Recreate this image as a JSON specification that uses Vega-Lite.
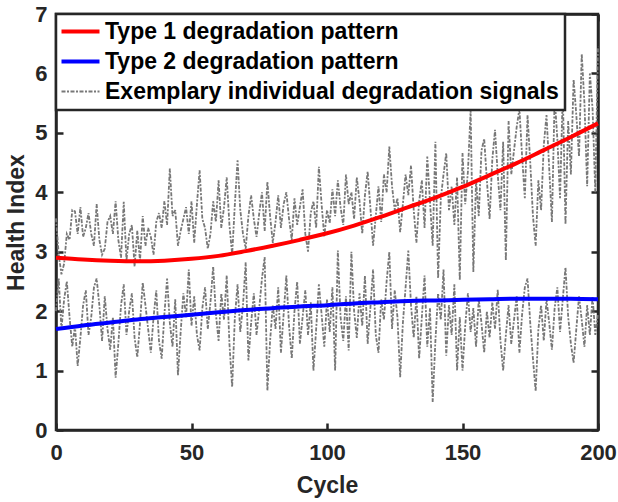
{
"$schema": "https://vega.github.io/schema/vega-lite/v6.json",
"width": 542, "height": 416,
"autosize": {"type": "none"},
"padding": {"left": 56, "top": 14, "right": 20, "bottom": 72},
"datasets": {
"curve": [
{"c":0,"t1":2.90,"t2":1.70},{"c":10,"t1":2.87,"t2":1.76},{"c":20,"t1":2.85,"t2":1.81},{"c":30,"t1":2.84,"t2":1.86},{"c":40,"t1":2.85,"t2":1.90},{"c":50,"t1":2.88,"t2":1.94},{"c":60,"t1":2.93,"t2":1.98},{"c":70,"t1":3.01,"t2":2.02},{"c":80,"t1":3.10,"t2":2.05},{"c":90,"t1":3.20,"t2":2.08},{"c":100,"t1":3.31,"t2":2.10},{"c":110,"t1":3.44,"t2":2.13},{"c":120,"t1":3.59,"t2":2.15},{"c":130,"t1":3.75,"t2":2.17},{"c":140,"t1":3.91,"t2":2.18},{"c":150,"t1":4.09,"t2":2.19},{"c":160,"t1":4.29,"t2":2.20},{"c":170,"t1":4.49,"t2":2.21},{"c":180,"t1":4.71,"t2":2.21},{"c":190,"t1":4.93,"t2":2.21},{"c":200,"t1":5.16,"t2":2.20}
],
"sig": [
{"c":0,"a":3.56,"b":2.00},{"c":1,"a":2.95,"b":2.55},{"c":2,"a":2.62,"b":1.70},{"c":3,"a":2.80,"b":2.20},{"c":4,"a":3.30,"b":2.50},{"c":5,"a":3.20,"b":1.90},{"c":6,"a":3.70,"b":1.40},{"c":7,"a":3.68,"b":1.75},{"c":8,"a":3.30,"b":1.08},{"c":9,"a":3.75,"b":1.55},
{"c":10,"a":3.25,"b":2.10},{"c":11,"a":3.40,"b":2.35},{"c":12,"a":3.65,"b":1.60},{"c":13,"a":3.30,"b":1.90},{"c":14,"a":3.10,"b":2.40},{"c":15,"a":3.80,"b":2.55},{"c":16,"a":3.20,"b":2.10},{"c":17,"a":2.95,"b":1.50},{"c":18,"a":3.05,"b":2.25},{"c":19,"a":3.50,"b":1.70},
{"c":20,"a":3.60,"b":1.35},{"c":21,"a":3.30,"b":1.90},{"c":22,"a":3.85,"b":0.88},{"c":23,"a":3.20,"b":1.45},{"c":24,"a":2.90,"b":2.10},{"c":25,"a":3.84,"b":2.45},{"c":26,"a":2.85,"b":1.60},{"c":27,"a":3.30,"b":2.00},{"c":28,"a":3.45,"b":2.30},{"c":29,"a":2.75,"b":1.55},
{"c":30,"a":3.35,"b":1.22},{"c":31,"a":2.85,"b":1.80},{"c":32,"a":3.60,"b":2.48},{"c":33,"a":3.10,"b":2.10},{"c":34,"a":3.40,"b":1.70},{"c":35,"a":3.25,"b":1.30},{"c":36,"a":2.95,"b":1.90},{"c":37,"a":3.50,"b":2.35},{"c":38,"a":3.65,"b":1.50},{"c":39,"a":3.40,"b":1.20},
{"c":40,"a":3.85,"b":1.95},{"c":41,"a":3.45,"b":2.55},{"c":42,"a":4.40,"b":1.80},{"c":43,"a":3.60,"b":1.40},{"c":44,"a":3.70,"b":2.20},{"c":45,"a":3.10,"b":0.92},{"c":46,"a":3.35,"b":1.65},{"c":47,"a":3.55,"b":2.30},{"c":48,"a":3.75,"b":1.90},{"c":49,"a":3.30,"b":2.70},
{"c":50,"a":3.85,"b":1.75},{"c":51,"a":3.15,"b":2.25},{"c":52,"a":3.80,"b":1.60},{"c":53,"a":4.37,"b":1.34},{"c":54,"a":3.55,"b":2.05},{"c":55,"a":3.40,"b":2.40},{"c":56,"a":3.05,"b":1.70},{"c":57,"a":3.30,"b":2.15},{"c":58,"a":3.85,"b":2.75},{"c":59,"a":3.50,"b":1.95},
{"c":60,"a":4.20,"b":1.50},{"c":61,"a":3.40,"b":2.30},{"c":62,"a":3.75,"b":1.85},{"c":63,"a":4.25,"b":2.60},{"c":64,"a":3.45,"b":1.45},{"c":65,"a":2.95,"b":0.72},{"c":66,"a":3.80,"b":1.90},{"c":67,"a":4.54,"b":2.45},{"c":68,"a":3.70,"b":1.65},{"c":69,"a":3.30,"b":2.10},
{"c":70,"a":3.05,"b":2.82},{"c":71,"a":3.60,"b":1.17},{"c":72,"a":3.95,"b":1.80},{"c":73,"a":3.55,"b":2.30},{"c":74,"a":3.25,"b":1.60},{"c":75,"a":3.65,"b":2.05},{"c":76,"a":4.00,"b":2.55},{"c":77,"a":3.35,"b":2.91},{"c":78,"a":4.18,"b":0.66},{"c":79,"a":3.60,"b":1.50},
{"c":80,"a":3.15,"b":2.10},{"c":81,"a":3.50,"b":1.70},{"c":82,"a":3.95,"b":2.40},{"c":83,"a":3.40,"b":1.30},{"c":84,"a":3.80,"b":1.95},{"c":85,"a":4.00,"b":2.60},{"c":86,"a":3.55,"b":1.75},{"c":87,"a":3.20,"b":1.20},{"c":88,"a":3.90,"b":2.00},{"c":89,"a":3.45,"b":2.50},
{"c":90,"a":3.75,"b":1.45},{"c":91,"a":4.05,"b":1.90},{"c":92,"a":3.30,"b":2.35},{"c":93,"a":3.00,"b":1.60},{"c":94,"a":3.65,"b":2.15},{"c":95,"a":3.85,"b":1.00},{"c":96,"a":3.40,"b":1.70},{"c":97,"a":4.43,"b":2.45},{"c":98,"a":3.80,"b":1.95},{"c":99,"a":3.25,"b":1.40},
{"c":100,"a":3.70,"b":2.20},{"c":101,"a":3.48,"b":1.65},{"c":102,"a":4.05,"b":2.40},{"c":103,"a":3.60,"b":1.00},{"c":104,"a":4.20,"b":3.02},{"c":105,"a":3.75,"b":1.90},{"c":106,"a":3.45,"b":1.50},{"c":107,"a":4.30,"b":2.25},{"c":108,"a":3.80,"b":1.34},{"c":109,"a":4.00,"b":3.00},
{"c":110,"a":3.55,"b":2.00},{"c":111,"a":4.25,"b":1.55},{"c":112,"a":3.85,"b":2.30},{"c":113,"a":3.30,"b":1.75},{"c":114,"a":3.95,"b":2.60},{"c":115,"a":4.35,"b":1.45},{"c":116,"a":3.75,"b":2.05},{"c":117,"a":3.10,"b":2.70},{"c":118,"a":3.60,"b":1.60},{"c":119,"a":4.10,"b":1.30},
{"c":120,"a":3.50,"b":2.20},{"c":121,"a":4.30,"b":1.85},{"c":122,"a":4.00,"b":2.50},{"c":123,"a":4.77,"b":3.00},{"c":124,"a":4.10,"b":1.70},{"c":125,"a":3.70,"b":2.35},{"c":126,"a":3.90,"b":1.90},{"c":127,"a":3.33,"b":0.89},{"c":128,"a":3.80,"b":1.80},{"c":129,"a":4.30,"b":2.40},
{"c":130,"a":3.95,"b":3.02},{"c":131,"a":4.45,"b":2.10},{"c":132,"a":3.70,"b":1.55},{"c":133,"a":3.15,"b":2.25},{"c":134,"a":3.85,"b":1.20},{"c":135,"a":4.20,"b":1.90},{"c":136,"a":3.40,"b":2.60},{"c":137,"a":4.60,"b":1.40},{"c":138,"a":3.85,"b":2.05},{"c":139,"a":3.10,"b":0.47},
{"c":140,"a":4.85,"b":1.50},{"c":141,"a":2.55,"b":2.30},{"c":142,"a":3.90,"b":1.85},{"c":143,"a":4.30,"b":2.70},{"c":144,"a":4.66,"b":1.25},{"c":145,"a":3.70,"b":2.10},{"c":146,"a":4.10,"b":1.60},{"c":147,"a":3.45,"b":2.45},{"c":148,"a":4.25,"b":1.00},{"c":149,"a":2.52,"b":1.90},
{"c":150,"a":4.66,"b":1.00},{"c":151,"a":3.80,"b":1.75},{"c":152,"a":4.35,"b":2.30},{"c":153,"a":5.38,"b":1.65},{"c":154,"a":2.66,"b":2.05},{"c":155,"a":4.20,"b":1.40},{"c":156,"a":3.60,"b":2.20},{"c":157,"a":4.70,"b":1.80},{"c":158,"a":4.90,"b":1.30},{"c":159,"a":4.20,"b":2.00},
{"c":160,"a":3.55,"b":1.55},{"c":161,"a":4.55,"b":2.15},{"c":162,"a":5.05,"b":1.70},{"c":163,"a":4.30,"b":2.36},{"c":164,"a":3.70,"b":1.50},{"c":165,"a":4.85,"b":1.00},{"c":166,"a":2.85,"b":1.60},{"c":167,"a":5.20,"b":2.10},{"c":168,"a":4.30,"b":1.45},{"c":169,"a":4.70,"b":1.85},
{"c":170,"a":5.10,"b":2.25},{"c":171,"a":5.40,"b":1.30},{"c":172,"a":4.60,"b":1.95},{"c":173,"a":3.90,"b":2.40},{"c":174,"a":5.30,"b":2.55},{"c":175,"a":4.50,"b":1.80},{"c":176,"a":3.60,"b":1.20},{"c":177,"a":3.10,"b":0.65},{"c":178,"a":4.20,"b":1.70},{"c":179,"a":3.70,"b":2.10},
{"c":180,"a":4.80,"b":1.50},{"c":181,"a":5.30,"b":2.20},{"c":182,"a":4.40,"b":1.80},{"c":183,"a":3.50,"b":1.35},{"c":184,"a":5.60,"b":2.05},{"c":185,"a":4.90,"b":2.40},{"c":186,"a":3.90,"b":1.65},{"c":187,"a":5.70,"b":2.20},{"c":188,"a":3.46,"b":2.74},{"c":189,"a":5.20,"b":1.90},
{"c":190,"a":4.30,"b":1.45},{"c":191,"a":5.90,"b":1.13},{"c":192,"a":5.30,"b":1.70},{"c":193,"a":4.60,"b":2.25},{"c":194,"a":6.33,"b":1.85},{"c":195,"a":5.50,"b":1.40},{"c":196,"a":4.10,"b":2.10},{"c":197,"a":6.00,"b":1.60},{"c":198,"a":5.40,"b":2.25},{"c":199,"a":4.00,"b":1.60},
{"c":200,"a":6.45,"b":1.95}
]
},
"config": {
  "font": "Liberation Sans",
  "view": {"stroke": "#262626", "strokeWidth": 2.5},
  "axis": {"domainColor": "#262626", "domainWidth": 2.5, "tickColor": "#262626", "tickWidth": 2.5, "tickSize": -7, "grid": false,
    "labelFont": "Liberation Sans", "labelFontSize": 22, "labelFontWeight": "bold", "labelColor": "#262626",
    "titleFont": "Liberation Sans", "titleFontSize": 23, "titleFontWeight": "bold", "titleColor": "#262626", "labelFlush": false},
  "legend": {"orient": "top-left", "offset": 0, "padding": 6, "fillColor": "white", "strokeColor": "#262626",
    "labelFont": "Liberation Sans", "labelFontSize": 23, "labelFontWeight": "bold", "labelColor": "black", "labelLimit": 0,
    "symbolType": "M-2,0H2", "symbolSize": 361, "symbolOffset": 7, "labelOffset": 13, "rowPadding": 6}
},
"layer": [
  {
    "data": {"name": "sig"},
    "transform": [{"fold": ["a", "b"], "as": ["key", "value"]}],
    "mark": {"type": "line", "strokeWidth": 1.8, "strokeDash": [4, 1.5, 2, 1.5]},
    "encoding": {
      "x": {"field": "c", "type": "quantitative", "scale": {"domain": [0, 200], "nice": false},
        "axis": {"title": "Cycle", "values": [0, 50, 100, 150, 200], "labelPadding": 19, "titlePadding": 11}},
      "y": {"field": "value", "type": "quantitative", "scale": {"domain": [0, 7], "nice": false},
        "axis": {"title": "Health Index", "values": [0, 1, 2, 3, 4, 5, 6, 7], "labelPadding": 16, "titlePadding": 6}},
      "detail": {"field": "key"},
      "color": {"datum": "Exemplary individual degradation signals", "type": "nominal",
        "scale": {"domain": ["Type 1 degradation pattern", "Type 2 degradation pattern", "Exemplary individual degradation signals"], "range": ["#ff0000", "#0000ff", "#787878"]},
        "legend": {"title": null,
          "encode": {
            "legend": {"update": {"strokeWidth": {"value": 2.5}}},
            "symbols": {"update": {
              "strokeWidth": {"signal": "datum.value === 'Exemplary individual degradation signals' ? 1.8 : 4"},
              "strokeDash": {"signal": "datum.value === 'Exemplary individual degradation signals' ? [4,1.5,2,1.5] : []"}}}
          }}}
    }
  },
  {
    "data": {"name": "curve"},
    "mark": {"type": "line", "strokeWidth": 4, "interpolate": "monotone"},
    "encoding": {
      "x": {"field": "c", "type": "quantitative", "axis": {"orient": "top", "values": [0, 50, 100, 150, 200], "labels": false, "title": null}},
      "y": {"field": "t1", "type": "quantitative", "axis": {"orient": "right", "values": [0, 1, 2, 3, 4, 5, 6, 7], "labels": false, "title": null}},
      "color": {"datum": "Type 1 degradation pattern", "type": "nominal"}
    }
  },
  {
    "data": {"name": "curve"},
    "mark": {"type": "line", "strokeWidth": 4, "interpolate": "monotone"},
    "encoding": {
      "x": {"field": "c", "type": "quantitative", "axis": null},
      "y": {"field": "t2", "type": "quantitative", "axis": null},
      "color": {"datum": "Type 2 degradation pattern", "type": "nominal"}
    }
  }
],
"resolve": {"axis": {"x": "independent", "y": "independent"}}
}
